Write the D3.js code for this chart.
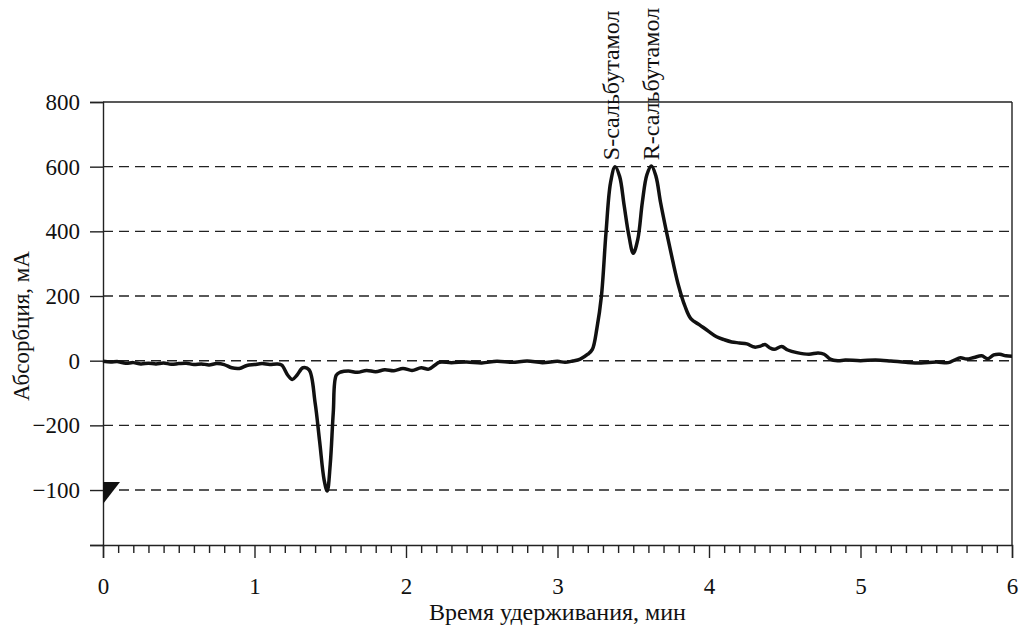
<!DOCTYPE html>
<html>
<head>
<meta charset="utf-8">
<script src="https://cdn.jsdelivr.net/npm/d3@7"></script>
<style>
  body { margin: 0; background: #fff; }
</style>
</head>
<body>
<div id="chart"></div>
<script>
// retention time (min) and absorbance
const times = [0.00, 0.05, 0.10, 0.15, 0.20, 0.25, 0.30, 0.35, 0.40, 0.45, 0.50, 0.55, 0.60, 0.65, 0.70, 0.75, 0.80, 0.85, 0.90, 0.95,
  1.00, 1.05, 1.10, 1.15, 1.18, 1.22, 1.25, 1.28, 1.32, 1.36, 1.40, 1.43, 1.46, 1.48, 1.50, 1.52, 1.54, 1.57, 1.62, 1.68,
  1.74, 1.80, 1.86, 1.92, 1.98, 2.04, 2.10, 2.15, 2.19, 2.22, 2.30, 2.40, 2.50, 2.60, 2.70, 2.80, 2.90, 3.00, 3.05, 3.10,
  3.15, 3.20, 3.23, 3.26, 3.29, 3.32, 3.35, 3.38, 3.41, 3.44, 3.47, 3.50, 3.53, 3.56, 3.59, 3.62, 3.65, 3.68, 3.72, 3.76,
  3.80, 3.84, 3.88, 3.94, 4.00, 4.05, 4.10, 4.15, 4.20, 4.25, 4.30, 4.34, 4.37, 4.40, 4.43, 4.48, 4.52, 4.58, 4.66, 4.72,
  4.76, 4.80, 4.85, 4.90, 5.00, 5.10, 5.20, 5.30, 5.40, 5.50, 5.58, 5.62, 5.66, 5.70, 5.75, 5.80, 5.84, 5.88, 5.92, 5.96, 6.00];
const absorb = [-2, -4, -3, -8, -6, -10, -8, -10, -7, -11, -9, -8, -12, -10, -13, -9, -12, -22, -24, -15,
  -12, -9, -12, -10, -14, -45, -58, -45, -22, -28, -130, -250, -370, -403, -320, -160, -45, -35, -32, -36,
  -30, -34, -28, -31, -24, -30, -22, -26, -14, -5, -6, -4, -7, -2, -5, -1, -6, -2, -5, -1,
  5, 20, 35, 100, 200, 395, 550, 600, 570, 480, 390, 332, 375, 490, 575, 602, 570, 490, 397, 310,
  230, 170, 130, 110, 90, 74, 65, 58, 55, 52, 42, 45, 50, 40, 35, 44, 33, 25, 20, 24,
  20, 5, 0, 2, 0, 2, -1, -5, -7, -4, -6, 2, 9, 5, 10, 15, 6, 18, 20, 15, 14];

const yTicks = [800, 600, 400, 200, 0, -200, -400, -570];
const yTickLabels = ["800", "600", "400", "200", "0", "\u2212200", "\u2212100", ""];
const gridValues = [600, 400, 200, 0, -200, -400];
const xTicks = [0, 1, 2, 3, 4, 5, 6];

const peakTimes = [3.38, 3.62];
const peakNames = ["S-сальбутамол", "R-сальбутамол"];

const width = 1020, height = 628;
const margin = { top: 102, right: 8, bottom: 83, left: 103 };
const serif = "'Liberation Serif', 'DejaVu Serif', serif";

const svg = d3.select("#chart").append("svg")
  .attr("width", width).attr("height", height);

const x = d3.scaleLinear().domain([0, 6]).range([margin.left, width - margin.right]);
const y = d3.scaleLinear().domain([-570, 800]).range([height - margin.bottom, margin.top]);

// dashed grid
svg.append("g").selectAll("line")
  .data(gridValues)
  .enter().append("line")
  .attr("x1", x(0)).attr("x2", x(6))
  .attr("y1", d => y(d)).attr("y2", d => y(d))
  .attr("stroke", "#222").attr("stroke-width", 1.4)
  .attr("stroke-dasharray", "10,6");

// frame top and right
svg.append("line")
  .attr("x1", x(0)).attr("x2", x(6)).attr("y1", y(800)).attr("y2", y(800))
  .attr("stroke", "#222").attr("stroke-width", 1.4);
svg.append("line")
  .attr("x1", x(6)).attr("x2", x(6)).attr("y1", y(800)).attr("y2", y(-570))
  .attr("stroke", "#222").attr("stroke-width", 1.4);

// y axis
svg.append("g")
  .attr("transform", `translate(${x(0)},0)`)
  .call(d3.axisLeft(y).tickValues(yTicks).tickSize(13).tickPadding(10)
    .tickFormat((d, i) => yTickLabels[i]));

// x axis: major + minor ticks
svg.append("g")
  .attr("transform", `translate(0,${y(-570)})`)
  .call(d3.axisBottom(x).tickValues(xTicks).tickSize(13).tickPadding(20).tickFormat(d3.format("d")));

svg.append("g")
  .attr("transform", `translate(0,${y(-570)})`)
  .call(d3.axisBottom(x).tickValues(d3.range(1, 60).map(d => d / 10).filter(d => Math.abs(d - Math.round(d)) > 1e-6))
    .tickSize(8).tickFormat(""))
  .call(g => g.select(".domain").remove());

svg.selectAll(".domain").attr("stroke", "#222").attr("stroke-width", 1.4);
svg.selectAll(".tick line").attr("stroke", "#222").attr("stroke-width", 1.4);
svg.selectAll(".tick text")
  .attr("font-family", null)
  .style("font-family", serif)
  .style("font-size", "23px")
  .style("fill", "#111");

// the chromatogram trace
const pts = times.map((t, i) => [t, absorb[i]]);
const line = d3.line()
  .x(d => x(d[0]))
  .y(d => y(d[1]))
  .curve(d3.curveCatmullRom.alpha(0.5));

svg.append("path")
  .datum(pts)
  .attr("fill", "none")
  .attr("stroke", "#111")
  .attr("stroke-width", 3.5)
  .attr("stroke-linejoin", "round")
  .attr("d", line);

// injection marker
const my = y(-400);
svg.append("path")
  .attr("d", `M${x(0)},${my - 8}L${x(0) + 17},${my - 8}L${x(0)},${my + 14}Z`)
  .attr("fill", "#111");

// peak labels
svg.append("g").selectAll("text")
  .data(peakNames)
  .enter().append("text")
  .attr("transform", (d, i) => `translate(${x(peakTimes[i]) + (i ? 8 : 4)},${y(620)}) rotate(-90)`)
  .style("font-family", serif)
  .style("font-size", "24px")
  .style("fill", "#111")
  .text(d => d);

// axis titles
svg.append("text")
  .attr("x", (x(0) + x(6)) / 2).attr("y", 620)
  .attr("text-anchor", "middle")
  .style("font-family", serif)
  .style("font-size", "24px")
  .style("fill", "#111")
  .text("Время удерживания, мин");

svg.append("text")
  .attr("transform", `translate(29,326) rotate(-90)`)
  .attr("text-anchor", "middle")
  .style("font-family", serif)
  .style("font-size", "23px")
  .style("fill", "#111")
  .text("Абсорбция, мА");
</script>
</body>
</html>
